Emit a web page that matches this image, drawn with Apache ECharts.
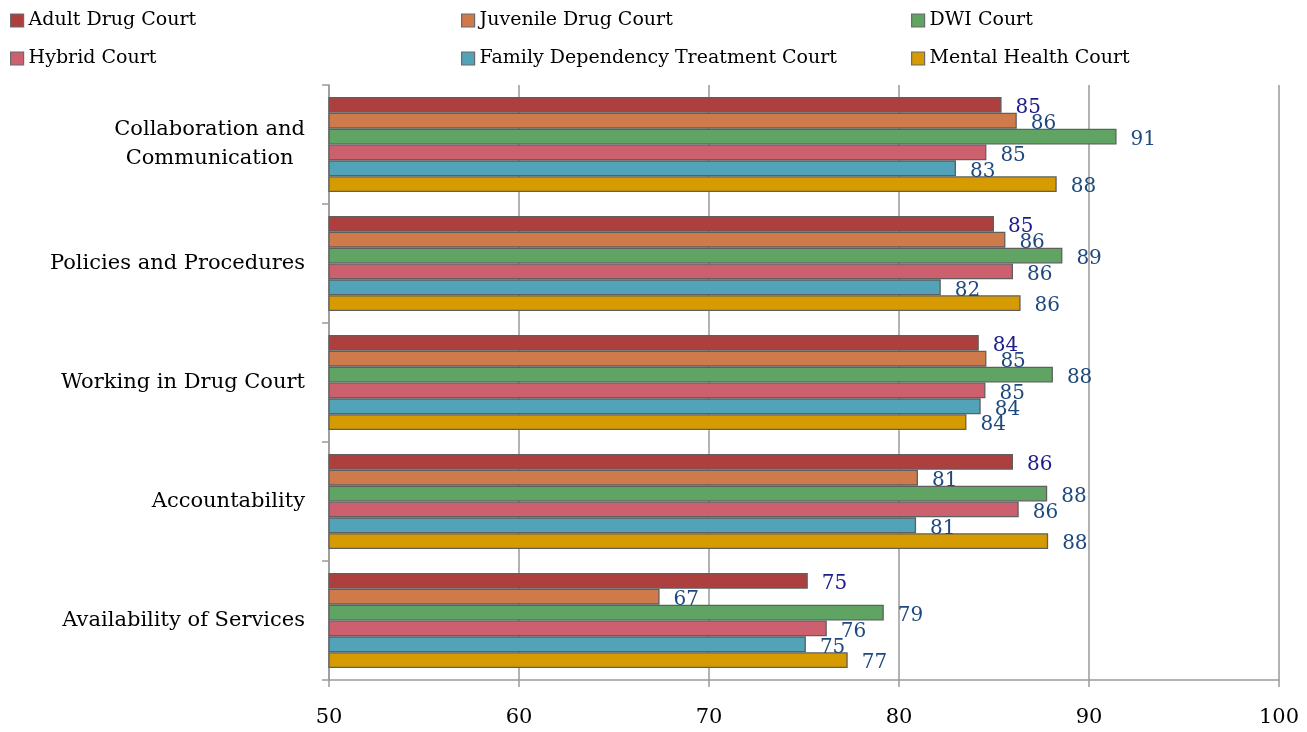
<!DOCTYPE html>
<html>
<head>
<meta charset="utf-8">
<script src="https://cdn.jsdelivr.net/npm/echarts@6/dist/echarts.min.js"></script>
<style>
html,body{margin:0;padding:0;background:#fff;}
#chart{width:1307px;height:732px;}
</style>
</head>
<body>
<div id="chart"></div>
<script>
const categories = ['Collaboration and Communication', 'Policies and Procedures', 'Working in Drug Court', 'Accountability', 'Availability of Services'];
const seriesNames = ['Adult Drug Court', 'Juvenile Drug Court', 'DWI Court', 'Hybrid Court', 'Family Dependency Treatment Court', 'Mental Health Court'];
const adultDrug = [85.4, 85.0, 84.2, 86.0, 75.2];
const juvenileDrug = [86.2, 85.6, 84.6, 81.0, 67.4];
const dwiCourt = [91.45, 88.6, 88.1, 87.8, 79.2];
const hybridCourt = [84.6, 86.0, 84.55, 86.3, 76.2];
const familyDependency = [83.0, 82.2, 84.3, 80.9, 75.1];
const mentalHealth = [88.3, 86.4, 83.55, 87.85, 77.3];
const xTicks = [50, 60, 70, 80, 90, 100];

const seriesData = [adultDrug, juvenileDrug, dwiCourt, hybridCourt, familyDependency, mentalHealth];
const colors = ['#ae3f3f', '#cf7a4a', '#5fa462', '#cd606e', '#52a2b8', '#d59b00'];
const labelColors = ['#1c1c8a', '#1f497d', '#1f497d', '#1f497d', '#1f497d', '#1f497d'];
const FONT = 'DejaVu Serif';

const legendPos = [[10, 11], [461, 11], [911, 11], [10, 49], [461, 49], [911, 49]];
const legends = seriesNames.map((n, i) => ({
  data: [n],
  left: legendPos[i][0],
  top: legendPos[i][1],
  padding: 0,
  icon: 'rect',
  itemWidth: 13,
  itemHeight: 13,
  itemStyle: { borderColor: '#6a6a6a', borderWidth: 1.2 },
  textStyle: { fontFamily: FONT, fontSize: 19, color: '#000' }
}));

const series = seriesNames.map((n, i) => ({
  name: n,
  type: 'bar',
  data: seriesData[i],
  barGap: '0%',
  barCategoryGap: '20%',
  itemStyle: { color: colors[i], borderColor: '#5f5f5f', borderWidth: 1.3 },
  label: {
    show: true,
    position: 'right',
    distance: 14,
    offset: [0, 3],
    formatter: p => String(Math.round(p.value)),
    fontFamily: FONT,
    fontSize: 20,
    color: labelColors[i]
  },
  animation: false
}));

const chart = echarts.init(document.getElementById('chart'), null, { renderer: 'canvas' });
chart.setOption({
  animation: false,
  backgroundColor: '#fff',
  legend: legends,
  grid: { left: 329, right: 28, top: 85, bottom: 52, containLabel: false },
  xAxis: {
    type: 'value',
    min: xTicks[0],
    max: xTicks[xTicks.length - 1],
    interval: 10,
    axisLine: { show: true, lineStyle: { color: '#9a9a9a', width: 1.5 } },
    axisTick: { show: true, length: 7, lineStyle: { color: '#9a9a9a', width: 1.5 } },
    splitLine: { show: true, lineStyle: { color: '#9a9a9a', width: 1.5 } },
    axisLabel: { fontFamily: FONT, fontSize: 21, color: '#000', margin: 27 }
  },
  yAxis: {
    type: 'category',
    data: categories,
    inverse: true,
    axisLine: { show: true, lineStyle: { color: '#9a9a9a', width: 1.5 } },
    axisTick: { show: true, length: 7, lineStyle: { color: '#9a9a9a', width: 1.5 } },
    axisLabel: {
      margin: 24,
      fontFamily: FONT,
      fontSize: 21,
      color: '#000',
      formatter: v => {
        if (v === 'Collaboration and Communication') return '{c|Collaboration and}\n{c|Communication}';
        return '{r|' + v + '}';
      },
      rich: {
        c: { align: 'center', fontFamily: FONT, fontSize: 21, color: '#000', lineHeight: 29 },
        r: { fontFamily: FONT, fontSize: 21, color: '#000' }
      }
    }
  },
  series: series
});
</script>
</body>
</html>
